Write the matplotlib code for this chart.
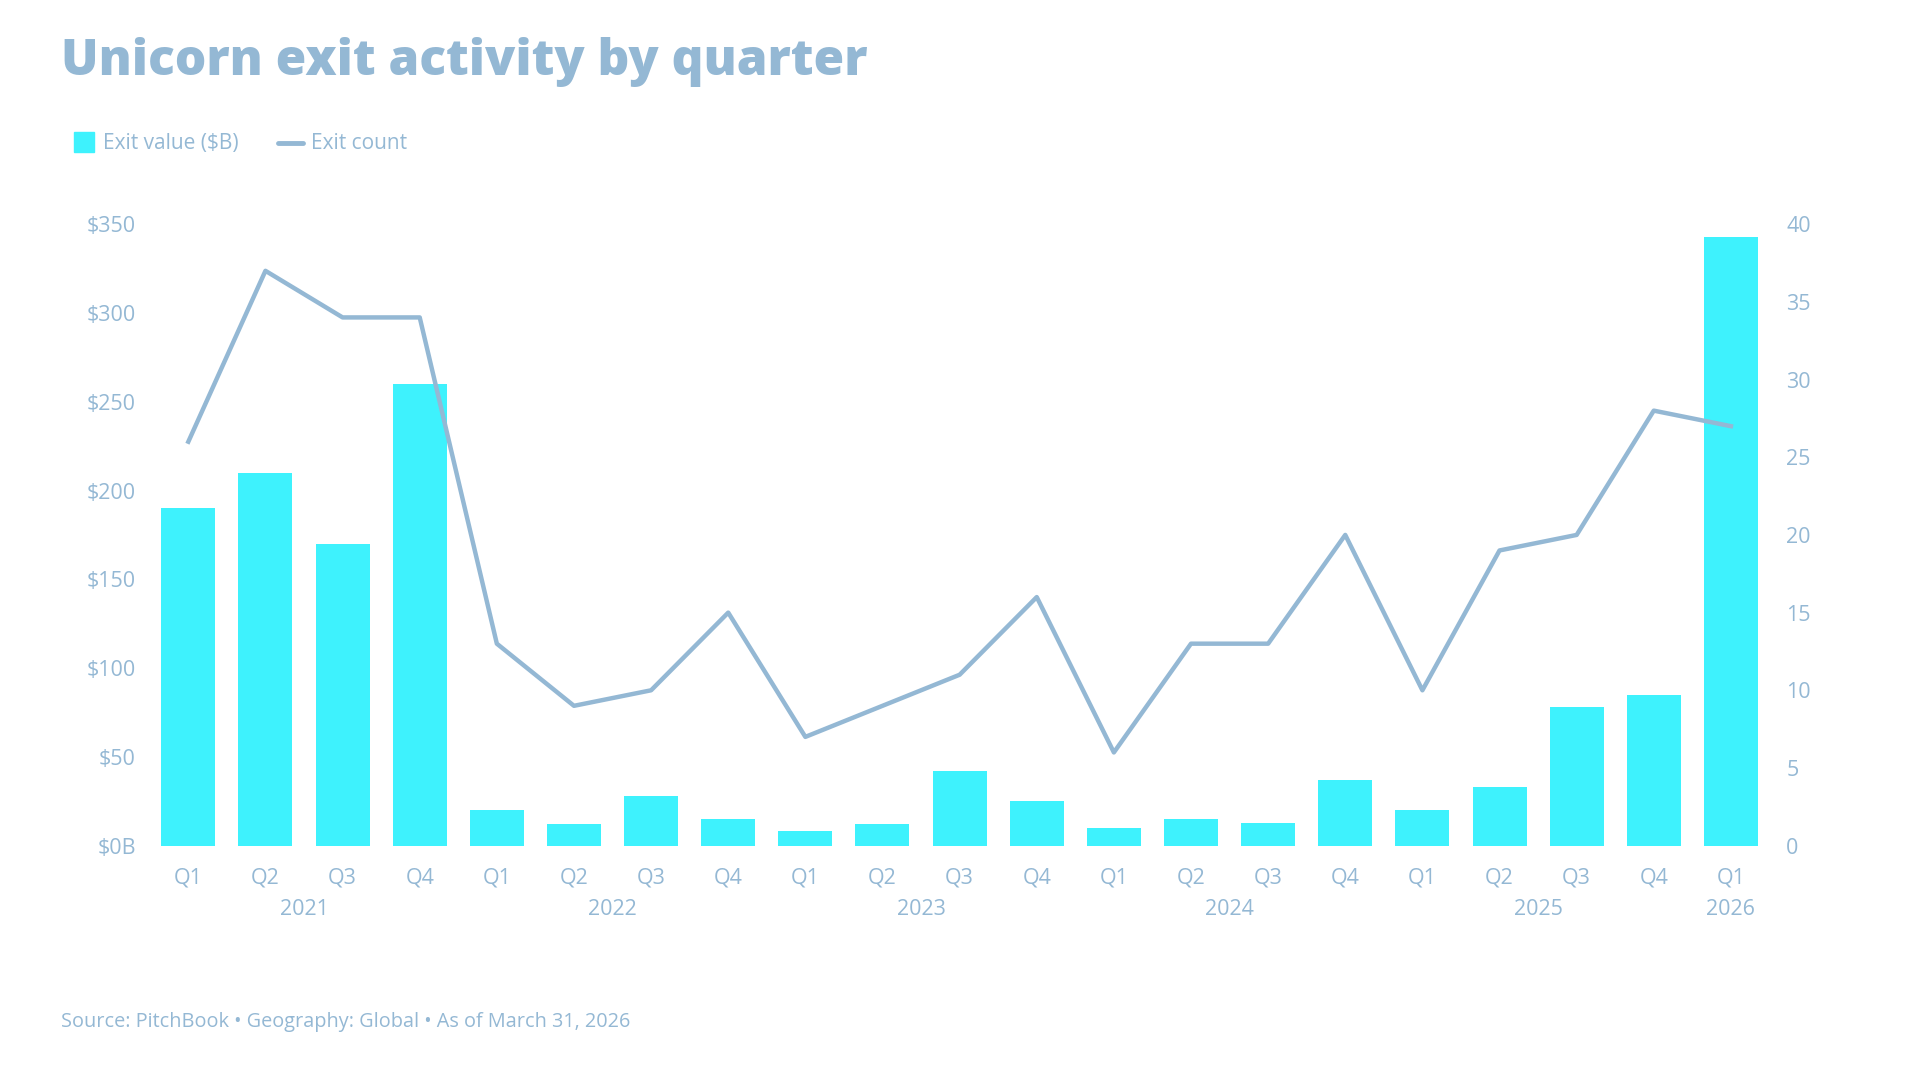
import matplotlib
matplotlib.use("Agg")
import matplotlib.pyplot as plt
import numpy as np

plt.rcParams['font.family'] = ['Open Sans', 'DejaVu Sans']

# data
quarters = ["Q1", "Q2", "Q3", "Q4"] * 5 + ["Q1"]
years = ["2021", "2022", "2023", "2024", "2025", "2026"]
exit_value = [190, 210, 170, 260, 20, 12, 28, 15, 8, 12, 42, 25,
              10, 15, 13, 37, 20, 33, 78, 85, 343]
exit_count = [26, 37, 34, 34, 13, 9, 10, 15, 7, 9, 11, 16,
              6, 13, 13, 20, 10, 19, 20, 28, 27]
value_ticks = [0, 50, 100, 150, 200, 250, 300, 350]
count_ticks = [0, 5, 10, 15, 20, 25, 30, 35, 40]

BAR_COLOR = "#3ef2fd"
LINE_COLOR = "#94b8d4"
TEXT_COLOR = "#94b8d4"

fig = plt.figure(figsize=(19.2, 10.8), dpi=100)
ax = fig.add_axes([0.078, 0.217, 0.8436, 0.5754])
ax2 = ax.twinx()

x = np.arange(len(exit_value))
ax.bar(x, exit_value, width=0.7, color=BAR_COLOR, zorder=2)
ax2.plot(x, exit_count, color=LINE_COLOR, linewidth=3.2, zorder=3)

ax.set_xlim(-0.5, len(x) - 0.5)
ax.set_ylim(0, 350)
ax2.set_ylim(0, 40)

ax.set_yticks(value_ticks)
ax.set_yticklabels(["$0B"] + ["$%d" % v for v in value_ticks[1:]])
ax2.set_yticks(count_ticks)
ax2.set_yticklabels([str(v) for v in count_ticks])

ax.set_xticks(x)
ax.set_xticklabels(quarters)

for a in (ax, ax2):
    for s in a.spines.values():
        s.set_visible(False)
    a.tick_params(length=0, labelsize=15.5, colors=TEXT_COLOR)
ax.tick_params(axis='y', pad=10)
ax2.tick_params(axis='y', pad=12)
ax.tick_params(axis='x', pad=16)

# year labels under quarter groups
for i, yr in enumerate(years):
    idx = [j for j in range(len(x)) if j // 4 == i]
    cx = np.mean(idx)
    ax.text(cx, -0.103, yr, transform=ax.get_xaxis_transform(),
            ha='center', va='center', fontsize=15.5, color=TEXT_COLOR)

fig.text(0.032, 0.943, "Unicorn exit activity by quarter", fontsize=35.7,
         fontweight='heavy', color=TEXT_COLOR, ha='left', va='center')

# legend
fig.patches.append(matplotlib.patches.Rectangle((0.0385, 0.859), 0.0105, 0.0185,
                   transform=fig.transFigure, color=BAR_COLOR, figure=fig))
fig.text(0.0535, 0.867, "Exit value ($B)", fontsize=15, color=TEXT_COLOR,
         ha='left', va='center')
fig.add_artist(matplotlib.lines.Line2D([0.145, 0.158], [0.868, 0.868],
               transform=fig.transFigure, color=LINE_COLOR, linewidth=3.5,
               solid_capstyle='round'))
fig.text(0.162, 0.867, "Exit count", fontsize=15, color=TEXT_COLOR,
         ha='left', va='center')

fig.text(0.032, 0.054, "Source: PitchBook \u2022 Geography: Global \u2022 As of March 31, 2026",
         fontsize=14.3, color=TEXT_COLOR, ha='left', va='center')

fig.savefig("out.png", dpi=100, facecolor="white")
